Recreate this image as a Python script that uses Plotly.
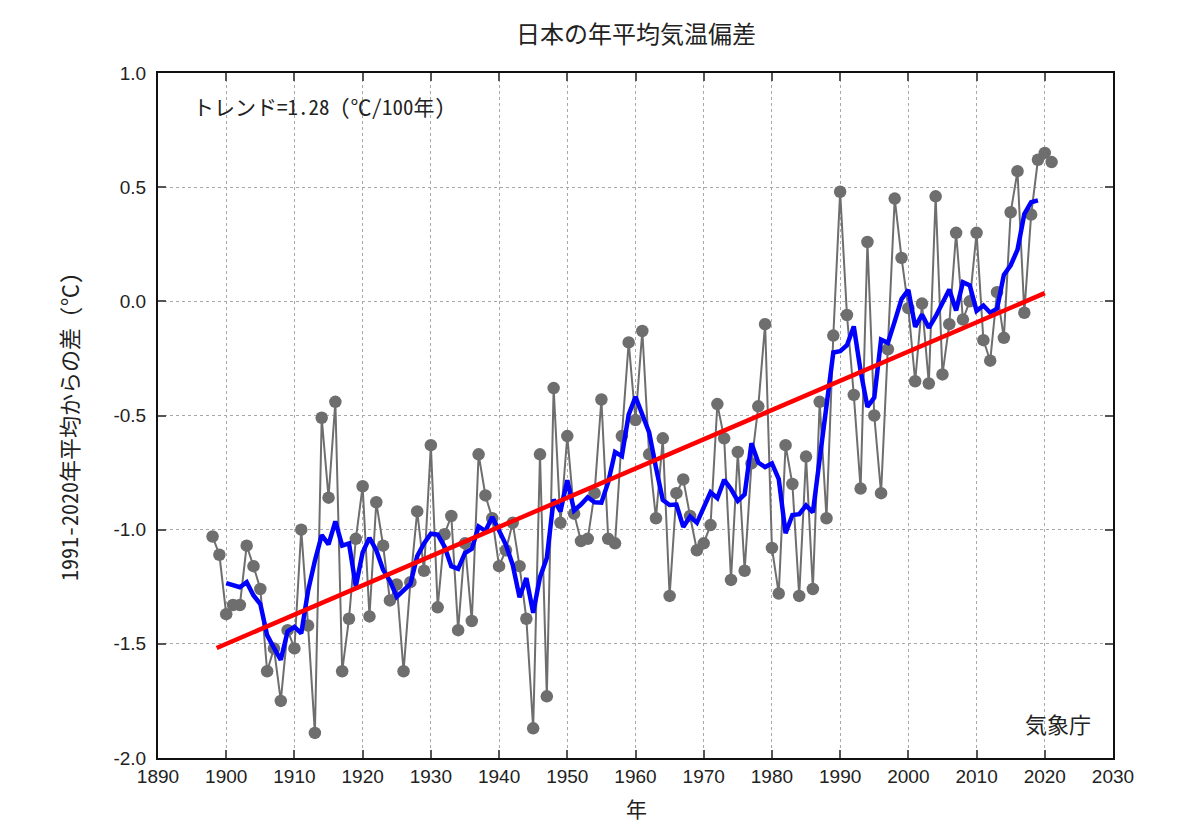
import numpy as np
import plotly.graph_objects as go

# ---- data ----
years = list(range(1898, 2022))
anomaly = [
    -1.03, -1.11, -1.37, -1.33, -1.33, -1.07, -1.16, -1.26, -1.62, -1.52,   # 1898-1907
    -1.75, -1.44, -1.52, -1.00, -1.42, -1.89, -0.51, -0.86, -0.44, -1.62,   # 1908-1917
    -1.39, -1.04, -0.81, -1.38, -0.88, -1.07, -1.31, -1.24, -1.62, -1.23,   # 1918-1927
    -0.92, -1.18, -0.63, -1.34, -1.02, -0.94, -1.44, -1.06, -1.40, -0.67,   # 1928-1937
    -0.85, -0.95, -1.16, -1.09, -0.97, -1.16, -1.39, -1.87, -0.67, -1.73,   # 1938-1947
    -0.38, -0.97, -0.59, -0.93, -1.05, -1.04, -0.84, -0.43, -1.04, -1.06,   # 1948-1957
    -0.59, -0.18, -0.52, -0.13, -0.67, -0.95, -0.60, -1.29, -0.84, -0.78,   # 1958-1967
    -0.94, -1.09, -1.06, -0.98, -0.45, -0.60, -1.22, -0.66, -1.18, -0.71,   # 1968-1977
    -0.46, -0.10, -1.08, -1.28, -0.63, -0.80, -1.29, -0.68, -1.26, -0.44,   # 1978-1987
    -0.95, -0.15, 0.48, -0.06, -0.41, -0.82, 0.26, -0.50, -0.84, -0.21,     # 1988-1997
    0.45, 0.19, -0.03, -0.35, -0.01, -0.36, 0.46, -0.32, -0.10, 0.30,       # 1998-2007
    -0.08, 0.00, 0.30, -0.17, -0.26, 0.04, -0.16, 0.39, 0.57, -0.05,        # 2008-2017
    0.38, 0.62, 0.65, 0.61,                                                 # 2018-2021
]
assert len(years) == len(anomaly)

running_window = 5                 # 5-year running mean (blue)
trend_rate_per_century = 1.28      # ℃ / 100 years (red)
trend_span = [1898.6, 2020.0]

xtick_vals = list(range(1890, 2031, 10))
ytick_vals = [-2.0, -1.5, -1.0, -0.5, 0.0, 0.5, 1.0]
ytick_text = ["-2.0", "-1.5", "-1.0", "-0.5", "0.0", "0.5", "1.0"]

title_text = "日本の年平均気温偏差"
ylabel_text = "1991-2020年平均からの差 (℃)"
xlabel_text = "年"
trend_text = "トレンド=1.28 (℃/100年)"
credit_text = "気象庁"

# ---- derived series ----
yr = np.array(years, dtype=float)
an = np.array(anomaly, dtype=float)
half = running_window // 2
rm_vals = np.convolve(an, np.ones(running_window) / running_window, mode="valid")
rm_years = yr[half:len(yr) - half]

slope = trend_rate_per_century / 100.0
intercept = an.mean() - slope * yr.mean()
tx = np.array(trend_span)
ty = intercept + slope * tx

fig = go.Figure()
fig.add_trace(go.Scatter(
    x=years, y=anomaly, mode="lines+markers",
    line=dict(color="#6e6e6e", width=2),
    marker=dict(color="#6e6e6e", size=12.5),
    showlegend=False,
))
fig.add_trace(go.Scatter(
    x=rm_years, y=rm_vals, mode="lines",
    line=dict(color="#0000ff", width=4.5),
    showlegend=False,
))
fig.add_trace(go.Scatter(
    x=tx, y=ty, mode="lines",
    line=dict(color="#ff0000", width=4.5),
    showlegend=False,
))

tick_font = dict(family="Liberation Sans, Arial, sans-serif", size=19, color="#222222")
jp_font = "Noto Sans CJK JP, sans-serif"
mono_jp = "Noto Sans Mono CJK JP, Noto Sans CJK JP, monospace"

# plot area on screen: x 158..1113, y 73..758 (page has an 8px body margin)
ML, MT, PW, PH = 150, 65, 955, 685

def px(xs):
    return (xs - 158) / PW

def py(ys):
    return (758 - ys) / PH

fig.update_layout(
    width=1200, height=832,
    margin=dict(l=ML, r=1200 - ML - PW, t=MT, b=832 - MT - PH),
    paper_bgcolor="white", plot_bgcolor="white",
    title=dict(text=title_text, x=(636 - 8) / 1200, xanchor="center", y=1 - (35 - 8) / 832, yanchor="middle",
               font=dict(family=jp_font, size=24, color="#222222")),
    xaxis=dict(
        range=[1890, 2030], tickvals=xtick_vals, tickfont=tick_font,
        showgrid=True, gridcolor="#a8a8a8", griddash="dot", gridwidth=1,
        showline=True, linecolor="#111111", linewidth=2, mirror="allticks",
        ticks="inside", ticklen=8, tickwidth=1.5, tickcolor="#555555",
        zeroline=False,
    ),
    yaxis=dict(
        range=[-2.0, 1.0], tickvals=ytick_vals, ticktext=ytick_text, tickfont=tick_font,
        showgrid=True, gridcolor="#a8a8a8", griddash="dot", gridwidth=1,
        showline=True, linecolor="#111111", linewidth=2, mirror="allticks",
        ticks="inside", ticklen=8, tickwidth=1.5, tickcolor="#555555",
        zeroline=False, ticklabelstandoff=6,
    ),
    annotations=[
        dict(text=trend_text, xref="paper", yref="paper", x=px(191), y=py(106),
             xanchor="left", yanchor="middle", showarrow=False,
             font=dict(family=mono_jp, size=21, color="#222222")),
        dict(text=credit_text, xref="paper", yref="paper", x=px(1093), y=py(723),
             xanchor="right", yanchor="middle", showarrow=False,
             font=dict(family=jp_font, size=22, color="#222222")),
        dict(text=xlabel_text, xref="paper", yref="paper", x=px(636), y=py(808),
             xanchor="center", yanchor="middle", showarrow=False,
             font=dict(family=jp_font, size=21, color="#222222")),
        dict(text=ylabel_text, xref="paper", yref="paper", x=px(68), y=py(427),
             xanchor="center", yanchor="middle", showarrow=False, textangle=-90,
             font=dict(family=mono_jp, size=22, color="#222222")),
    ],
)

fig.write_html("out.html")
